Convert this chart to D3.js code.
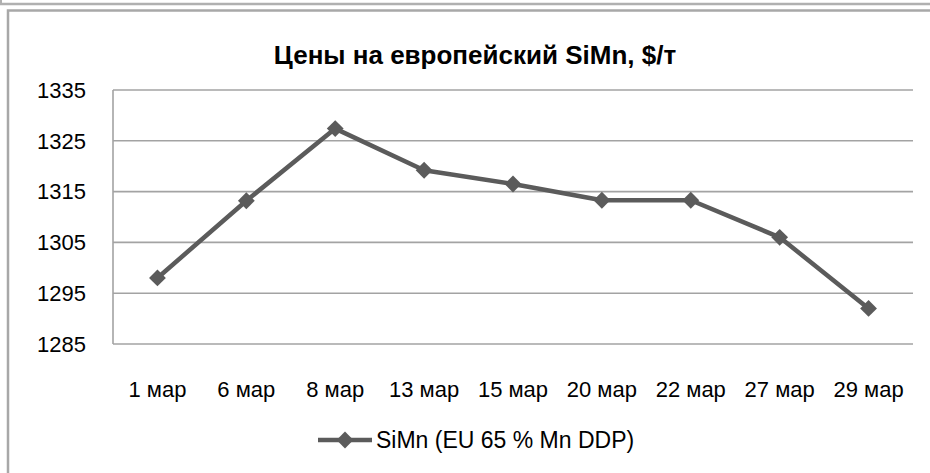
<!DOCTYPE html>
<html>
<head>
<meta charset="utf-8" />
<title>Цены на европейский SiMn</title>
<script src="https://d3js.org/d3.v7.min.js"></script>
<style>
  body { margin: 0; background: #fff; }
  svg { display: block; }
</style>
</head>
<body>
<svg width="930" height="473"></svg>
<script>
// data
const dates = ["1 мар", "6 мар", "8 мар", "13 мар", "15 мар", "20 мар", "22 мар", "27 мар", "29 мар"];
const prices = [1298, 1313.2, 1327.4, 1319.2, 1316.5, 1313.3, 1313.3, 1306, 1292];
const yTicks = [1285, 1295, 1305, 1315, 1325, 1335];
const seriesName = "SiMn (EU 65 % Mn DDP)";
const chartTitle = "Цены на европейский SiMn, $/т";

const svg = d3.select("svg");
const font = "'Liberation Sans', Arial, sans-serif";
const lineColor = "#5b5b5b";
const gridColor = "#a3a3a3";

// frames around the chart
svg.append("line")
  .attr("x1", 0).attr("x2", 930).attr("y1", 4).attr("y2", 4)
  .style("stroke", "#b0b0b0").style("stroke-width", 2.5);
svg.append("line")
  .attr("x1", 1).attr("x2", 1).attr("y1", 0).attr("y2", 4)
  .style("stroke", "#b0b0b0").style("stroke-width", 2);
svg.append("path")
  .attr("d", "M8,480 V10.5 H940")
  .style("fill", "none").style("stroke", "#a8a8a8").style("stroke-width", 2.5);

// plot area
const plotLeft = 113, plotRight = 913, plotTop = 90, plotBottom = 344;

const x = d3.scaleBand().domain(dates).range([plotLeft, plotRight]);
const y = d3.scaleLinear().domain([1285, 1335]).range([plotBottom, plotTop]);

// gridlines
svg.append("g")
  .selectAll("line")
  .data(yTicks)
  .enter()
  .append("line")
  .attr("x1", plotLeft).attr("x2", plotRight)
  .attr("y1", (d) => y(d)).attr("y2", (d) => y(d))
  .style("stroke", gridColor).style("stroke-width", 1.6);

// y axis line
svg.append("line")
  .attr("x1", plotLeft).attr("x2", plotLeft).attr("y1", plotTop).attr("y2", plotBottom)
  .style("stroke", gridColor).style("stroke-width", 1.6);

// y tick labels
svg.append("g")
  .selectAll("text")
  .data(yTicks)
  .enter()
  .append("text")
  .attr("x", 86)
  .attr("y", (d) => y(d))
  .attr("dy", "0.35em")
  .attr("text-anchor", "end")
  .style("font-family", font).style("font-size", "22px").style("fill", "#000")
  .text((d) => d);

// x tick labels
svg.append("g")
  .selectAll("text")
  .data(dates)
  .enter()
  .append("text")
  .attr("x", (d) => x(d) + x.bandwidth() / 2)
  .attr("y", 397)
  .attr("text-anchor", "middle")
  .style("font-family", font).style("font-size", "22px").style("fill", "#000")
  .text((d) => d);

// series line
const line = d3.line()
  .x((d, i) => x(dates[i]) + x.bandwidth() / 2)
  .y((d) => y(d));

svg.append("path")
  .attr("d", line(prices))
  .style("fill", "none")
  .style("stroke", lineColor)
  .style("stroke-width", 4.5)
  .style("stroke-linejoin", "round");

// diamond markers
const diamond = d3.symbol().type(d3.symbolDiamond2).size(180);
svg.append("g")
  .selectAll("path")
  .data(prices)
  .enter()
  .append("path")
  .attr("transform", (d, i) => `translate(${x(dates[i]) + x.bandwidth() / 2},${y(d)})`)
  .attr("d", diamond)
  .style("fill", lineColor);

// title
svg.append("text")
  .attr("x", 475)
  .attr("y", 64)
  .attr("text-anchor", "middle")
  .style("font-family", font).style("font-weight", "bold").style("font-size", "26px")
  .style("fill", "#000")
  .text(chartTitle);

// legend
const legend = svg.append("g").attr("transform", "translate(318,440)");
legend.append("line")
  .attr("x1", 0).attr("x2", 54)
  .style("stroke", lineColor).style("stroke-width", 4.5);
legend.append("path")
  .attr("transform", "translate(27,0)")
  .attr("d", diamond)
  .style("fill", lineColor);
legend.append("text")
  .attr("x", 58)
  .attr("dy", "0.35em")
  .style("font-family", font).style("font-size", "23px").style("fill", "#000")
  .text(seriesName);
</script>
</body>
</html>
